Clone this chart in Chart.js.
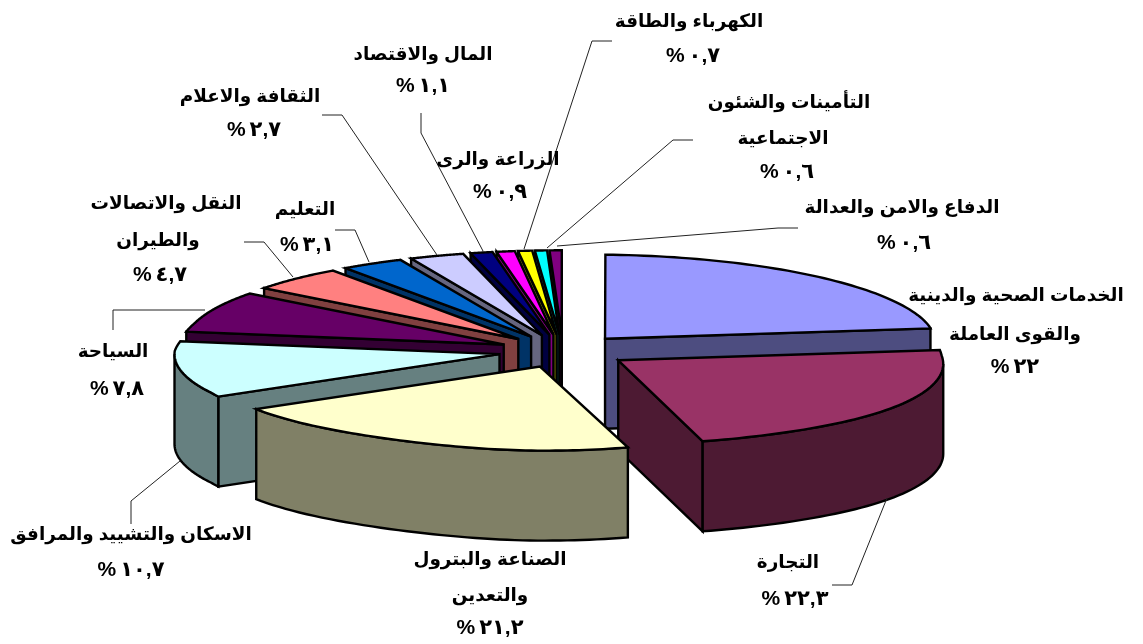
<!DOCTYPE html>
<html lang="ar">
<head>
<meta charset="utf-8">
<title>Pie</title>
<script src="https://cdn.jsdelivr.net/npm/chart.js@4"></script>
<style>
html, body { margin: 0; padding: 0; background: #fff; }
canvas { display: block; }
</style>
</head>
<body>
<canvas id="myChart" width="1143" height="644"></canvas>
<script>
var categories = [
    'الخدمات الصحية والدينية والقوى العاملة', 'التجارة', 'الصناعة والبترول والتعدين',
    'الاسكان والتشييد والمرافق', 'السياحة', 'النقل والاتصالات والطيران', 'التعليم',
    'الثقافة والاعلام', 'المال والاقتصاد', 'الزراعة والرى', 'الكهرباء والطاقة',
    'التأمينات والشئون الاجتماعية', 'الدفاع والامن والعدالة'
];
var values = [22, 22.3, 21.2, 10.7, 7.8, 4.7, 3.1, 2.7, 1.1, 0.9, 0.7, 0.6, 0.6];
var faceColors = ['#9999FF', '#993366', '#FFFFCC', '#CCFFFF', '#660066', '#FF8080', '#0066CC',
    '#CCCCFF', '#000080', '#FF00FF', '#FFFF00', '#00FFFF', '#800080'];
var wallColors = ['#4D4D80', '#4D1A33', '#808066', '#668080', '#330033', '#804040', '#003366',
    '#666680', '#000040', '#800080', '#808000', '#008080', '#400040'];

// text lines of each label with the centre of every line
var labelLines = [
    [['الخدمات الصحية والدينية', 1016, 296], ['والقوى العاملة', 1015, 335], ['٢٢%', 1015, 367]],
    [['التجارة', 788, 563], ['٢٢,٣%', 795, 599]],
    [['الصناعة والبترول', 490, 560], ['والتعدين', 490, 596], ['٢١,٢%', 490, 628]],
    [['الاسكان والتشييد والمرافق', 131, 535], ['١٠,٧%', 131, 570]],
    [['السياحة', 113, 352], ['٧,٨%', 117, 389]],
    [['النقل والاتصالات', 166, 204], ['والطيران', 158, 241], ['٤,٧%', 160, 275]],
    [['التعليم', 305, 210], ['٣,١%', 307, 245]],
    [['الثقافة والاعلام', 250, 97], ['٢,٧%', 254, 130]],
    [['المال والاقتصاد', 423, 55], ['١,١%', 423, 86]],
    [['الزراعة والرى', 498, 160], ['٠,٩%', 500, 192]],
    [['الكهرباء والطاقة', 689, 22], ['٠,٧%', 693, 56]],
    [['التأمينات والشئون', 789, 103], ['الاجتماعية', 783, 139], ['٠,٦%', 787, 172]],
    [['الدفاع والامن والعدالة', 902, 208], ['٠,٦%', 904, 243]]
];
var leaderLines = [
    [[887, 498], [852, 585], [832, 585]],
    [[180, 461], [131, 501], [131, 524]],
    [[205, 310], [113, 310], [113, 330]],
    [[244, 242], [264, 242], [293, 277]],
    [[335, 230], [355, 230], [369, 262]],
    [[322, 115], [342, 115], [437, 255]],
    [[421, 113], [421, 133], [483, 251]],
    [[612, 41], [592, 41], [524, 249]],
    [[693, 140], [673, 140], [547, 248]],
    [[798, 228], [778, 228], [557, 246]]
];

const SCALE_X = 325, SCALE_Y = 84, DEPTH = 90;

// the chart's flat circle laid down on its side, unit = one pie radius
// the small factors are the reference's slight perspective
function project(el, x, y, down) {
    var f = 1;
    if (y > 0) {
        f = 1 - 0.073 * Math.pow(y, 6);
        if (x < 0) f *= 1 + 0.02 * Math.max(0, Math.min(1, (y - 0.5) * 5));
    } else {
        f = 1 + (x < 0 ? -0.015 : 0.015) * Math.min(1, -y * 3);
    }
    var tilt = x > 0 ? 3.6 * x : 0;
    return [el.x + x * f * SCALE_X, el.y + y * SCALE_Y + tilt + (down ? DEPTH : 0)];
}

function fillPath(ctx, pts, color) {
    ctx.beginPath();
    pts.forEach((p, i) => i ? ctx.lineTo(p[0], p[1]) : ctx.moveTo(p[0], p[1]));
    ctx.closePath();
    ctx.fillStyle = color;
    ctx.fill();
    ctx.stroke();
}

function drawSlice(ctx, el, wall) {
    var R = el.outerRadius;
    var a = el.startAngle, b = el.endAngle, mid = (a + b) / 2;
    var ox = Math.cos(mid) * el.options.offset / R;
    var oy = Math.sin(mid) * el.options.offset / R;
    var rimPt = (t, down) => project(el, ox + Math.cos(t), oy + Math.sin(t), down);
    var apex = project(el, ox, oy), apexD = project(el, ox, oy, true);

    if (Math.cos(a) < 0) fillPath(ctx, [apex, rimPt(a), rimPt(a, true), apexD], wall);
    if (Math.cos(b) > 0) fillPath(ctx, [apex, rimPt(b), rimPt(b, true), apexD], wall);

    var r0 = Math.max(a, 0), r1 = Math.min(b, Math.PI), i;
    if (r1 > r0) {
        var upper = [], lower = [];
        for (i = 0; i <= 48; i++) {
            var t = r0 + (r1 - r0) * i / 48;
            upper.push(rimPt(t));
            lower.unshift(rimPt(t, true));
        }
        fillPath(ctx, upper.concat(lower), wall);
    }

    var face = [apex];
    for (i = 0; i <= 60; i++) face.push(rimPt(a + (b - a) * i / 60));
    fillPath(ctx, face, el.options.backgroundColor);
}

var pie3d = {
    id: 'pie3d',
    beforeDatasetsDraw(chart) {
        var ctx = chart.ctx;
        var arcs = chart.getDatasetMeta(0).data;
        var order = arcs.map((el, i) => i).sort((p, q) =>
            Math.sin((arcs[p].startAngle + arcs[p].endAngle) / 2) -
            Math.sin((arcs[q].startAngle + arcs[q].endAngle) / 2));
        ctx.save();
        ctx.strokeStyle = '#000';
        ctx.lineWidth = 2.4;
        ctx.lineJoin = 'miter';
        ctx.miterLimit = 4;
        order.forEach(i => drawSlice(ctx, arcs[i], wallColors[i]));
        ctx.restore();
        return false;
    },
    afterDraw(chart) {
        var ctx = chart.ctx;
        ctx.save();
        ctx.strokeStyle = '#222';
        ctx.lineWidth = 1;
        leaderLines.forEach(line => {
            ctx.beginPath();
            line.forEach((p, i) => i ? ctx.lineTo(p[0], p[1]) : ctx.moveTo(p[0], p[1]));
            ctx.stroke();
        });
        ctx.fillStyle = '#000';
        ctx.textAlign = 'center';
        ctx.textBaseline = 'middle';
        ctx.direction = 'rtl';
        labelLines.forEach(lines => lines.forEach(l => {
            var isNum = l[0].indexOf('%') >= 0;
            ctx.font = isNum ? 'bold 21px "Liberation Sans", "DejaVu Sans"' : 'bold 18.4px "Liberation Sans", "DejaVu Sans"';
            ctx.letterSpacing = isNum ? '4px' : '0px';
            ctx.fillText(l[0], l[1], l[2]);
        }));
        ctx.restore();
    }
};

new Chart(document.getElementById('myChart'), {
    type: 'pie',
    data: {
        labels: categories,
        datasets: [{ data: values, backgroundColor: faceColors, offset: 53, borderWidth: 0 }]
    },
    options: {
        responsive: false,
        animation: false,
        layout: { padding: { right: 17, top: 58 } },
        plugins: { legend: { display: false }, tooltip: { enabled: false } }
    },
    plugins: [pie3d]
});
</script>
</body>
</html>
